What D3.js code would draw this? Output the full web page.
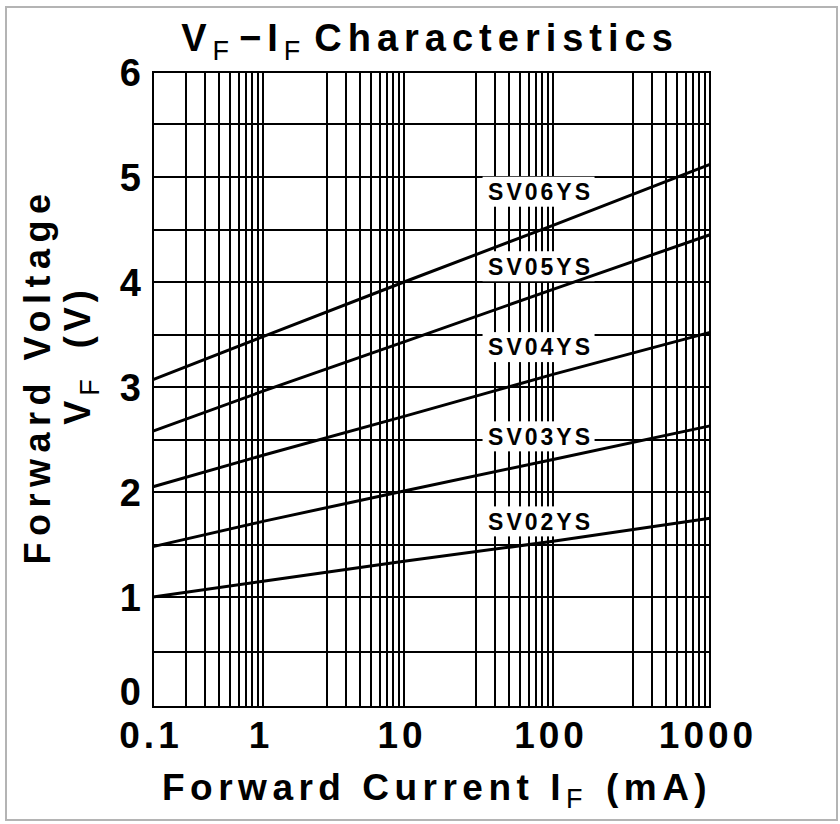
<!DOCTYPE html>
<html>
<head>
<meta charset="utf-8">
<script src="https://cdnjs.cloudflare.com/ajax/libs/d3/7.8.5/d3.min.js"></script>
<style>
html, body { margin: 0; padding: 0; background: #fff; }
svg text { font-family: 'Liberation Sans', Arial, Helvetica, sans-serif; fill: #000; }
</style>
</head>
<body>
<div id="chart"></div>
<script>
// Values (VF in volts at each decade of IF in mA)
var currents = [0.1, 1, 10, 100, 1000];
var seriesNames = ["SV02YS", "SV03YS", "SV04YS", "SV05YS", "SV06YS"];
var sv02 = [1.00, 1.15, 1.34, 1.53, 1.75];
var sv03 = [1.48, 1.72, 2.01, 2.31, 2.63];
var sv04 = [2.05, 2.35, 2.72, 3.12, 3.52];
var sv05 = [2.58, 2.96, 3.43, 3.93, 4.45];
var sv06 = [3.07, 3.48, 4.00, 4.54, 5.12];
var seriesValues = [sv02, sv03, sv04, sv05, sv06];

// where the curve names sit
var labelCurrent = 80;
var labelVoltage = [1.72, 2.53, 3.38, 4.15, 4.86];

var xTickLabels = ["0.1", "1", "10", "100", "1000"];
var yTickValues = [0, 1, 2, 3, 4, 5, 6];

// Dimensions
var opts = {
    width: 840,
    height: 824,
    plot: { left: 153, top: 72, right: 710, bottom: 707 },
    // the decades in the original are not equally wide
    decadeStops: [0, 110, 251, 400, 557],
    minorWidth: 110
};

var svg = d3.select("#chart")
    .append("svg")
    .attr("width", opts.width)
    .attr("height", opts.height);

// outer frame
svg.append("rect")
    .attr("x", 6).attr("y", 7)
    .attr("width", opts.width - 9).attr("height", opts.height - 11)
    .attr("fill", "#fff")
    .attr("stroke", "#b4b4b4")
    .attr("stroke-width", 2);

var x = d3.scaleLog()
    .domain(currents)
    .range(opts.decadeStops.map(function(d) { return opts.plot.left + d; }));

var y = d3.scaleLinear()
    .domain([0, 1, 6])
    .range([opts.plot.bottom, 597, opts.plot.top]);

// vertical grid: decade lines plus 2..9 inside each decade
var vLines = currents.map(function(d) { return x(d); });
for (var i = 0; i < currents.length - 1; i++) {
    var lo = currents[i], hi = currents[i + 1];
    var sub = d3.scaleLog().domain([lo, hi]).range([x(hi) - opts.minorWidth, x(hi)]);
    for (var k = 2; k <= 9; k++) vLines.push(sub(k * lo));
}

var grid = svg.append("g")
    .attr("stroke", "#000")
    .attr("stroke-width", 2)
    .attr("shape-rendering", "crispEdges");

grid.selectAll("line.v")
    .data(vLines)
    .enter().append("line")
    .attr("class", "v")
    .attr("x1", function(d) { return Math.round(d); })
    .attr("x2", function(d) { return Math.round(d); })
    .attr("y1", opts.plot.top)
    .attr("y2", opts.plot.bottom);

grid.selectAll("line.h")
    .data(y.ticks(12))
    .enter().append("line")
    .attr("class", "h")
    .attr("x1", opts.plot.left)
    .attr("x2", opts.plot.right)
    .attr("y1", function(d) { return Math.round(y(d)); })
    .attr("y2", function(d) { return Math.round(y(d)); });

grid.append("rect")
    .attr("x", opts.plot.left).attr("y", opts.plot.top)
    .attr("width", opts.plot.right - opts.plot.left)
    .attr("height", opts.plot.bottom - opts.plot.top)
    .attr("fill", "none");

// white boxes behind curve names
var labels = svg.append("g").selectAll("g")
    .data(seriesNames)
    .enter().append("g")
    .attr("transform", function(d, i) {
        return "translate(" + x(labelCurrent) + "," + y(labelVoltage[i]) + ")";
    });

labels.append("rect")
    .attr("x", -56).attr("y", -15)
    .attr("width", 112).attr("height", 30)
    .attr("fill", "#fff");

// curves
var line = d3.line()
    .x(function(d, i) { return x(currents[i]); })
    .y(function(d) { return y(d); });

svg.append("g").selectAll("path")
    .data(seriesValues)
    .enter().append("path")
    .attr("d", line)
    .attr("fill", "none")
    .attr("stroke", "#000")
    .attr("stroke-width", 3);

labels.append("text")
    .attr("text-anchor", "middle")
    .attr("dy", "0.36em")
    .attr("dx", 2)
    .style("font-size", "23px")
    .style("font-weight", "bold")
    .style("letter-spacing", "3px")
    .text(function(d) { return d; });

// tick labels
svg.append("g").selectAll("text")
    .data(yTickValues)
    .enter().append("text")
    .attr("x", 141)
    .attr("y", function(d) { return y(d) + (d === 0 ? -2 : 14); })
    .attr("text-anchor", "end")
    .style("font-size", "38px")
    .style("font-weight", "bold")
    .text(function(d) { return d; });

svg.append("g").selectAll("text")
    .data(xTickLabels)
    .enter().append("text")
    .attr("x", function(d, i) { return x(currents[i]) - 2; })
    .attr("y", 748)
    .attr("text-anchor", "middle")
    .style("font-size", "37px")
    .style("font-weight", "bold")
    .style("letter-spacing", "4px")
    .text(function(d) { return d; });

// title
var title = svg.append("text")
    .attr("x", 430)
    .attr("y", 51)
    .attr("text-anchor", "middle")
    .style("font-size", "38px")
    .style("font-weight", "bold")
    .style("letter-spacing", "6px");
title.append("tspan").text("V");
title.append("tspan").attr("dy", 9).style("font-size", "27px").style("font-weight", "normal").text("F");
title.append("tspan").attr("dy", -9).attr("dx", 4).text("\u2212I");
title.append("tspan").attr("dy", 9).style("font-size", "27px").style("font-weight", "normal").text("F");
title.append("tspan").attr("dy", -9).attr("dx", 8).text("Characteristics");

// x axis title
var xTitle = svg.append("text")
    .attr("x", 162)
    .attr("y", 800)
    .style("font-size", "37px")
    .style("font-weight", "bold")
    .style("letter-spacing", "5.5px");
xTitle.append("tspan").text("Forward Current I");
xTitle.append("tspan").attr("dy", 8).style("font-size", "27px").style("font-weight", "normal").text("F");
xTitle.append("tspan").attr("dy", -8).attr("dx", 18).text("(mA)");

// y axis title, two rotated lines
svg.append("text")
    .attr("transform", "translate(50,376) rotate(-90)")
    .attr("text-anchor", "middle")
    .style("font-size", "36px")
    .style("font-weight", "bold")
    .style("letter-spacing", "6.5px")
    .text("Forward Voltage");

var yTitle2 = svg.append("text")
    .attr("transform", "translate(90,355) rotate(-90)")
    .attr("text-anchor", "middle")
    .style("font-size", "36px")
    .style("font-weight", "bold")
    .style("letter-spacing", "5px");
yTitle2.append("tspan").text("V");
yTitle2.append("tspan").attr("dy", 9).style("font-size", "27px").style("font-weight", "normal").text("F");
yTitle2.append("tspan").attr("dy", -9).attr("dx", 26).text("(V)");
</script>
</body>
</html>
